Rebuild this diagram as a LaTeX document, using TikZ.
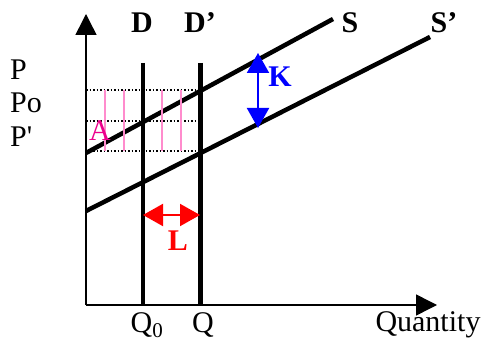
\documentclass[tikz,border=0pt]{standalone}
\usepackage{fontspec}
\setmainfont{Liberation Serif}
\usetikzlibrary{arrows.meta}
\begin{document}
\begin{tikzpicture}[x=1pt,y=-1pt,
    lbl/.style={font=\fontsize{30}{32}\selectfont, inner sep=0pt},
    blbl/.style={font=\fontsize{30}{32}\selectfont\bfseries, inner sep=0pt},
    tip/.style={-{Triangle[length=21pt,width=21pt]}},
    dtip/.style={{Triangle[length=20pt,width=22pt]}-{Triangle[length=20pt,width=22pt]}}]

  \useasboundingbox (0,0) rectangle (484,344);

  % Assen
  \coordinate (O)    at (86,305);
  \coordinate (Ytop) at (86,14);
  \coordinate (Xend) at (437,305);
  \draw[tip, line width=1.5pt] (O) -- (Ytop);
  \draw[tip, line width=1.5pt] (O) -- (Xend);

  % Vraaglijnen
  \coordinate (D0) at (143,63);
  \coordinate (D1) at (143,305);
  \coordinate (E0) at (200,63);
  \coordinate (E1) at (200,305);
  \draw[line width=3.5pt] (D0) -- (D1);
  \draw[line width=5pt]   (E0) -- (E1);

  % Aanbodlijnen
  \coordinate (S0) at (86,153);
  \coordinate (S1) at (333,19);
  \coordinate (T0) at (86,211);
  \coordinate (T1) at (430,37);
  \draw[line width=4.5pt] (S0) -- (S1);
  \draw[line width=4.5pt] (T0) -- (T1);

  % Hulplijnen
  \foreach \y/\n in {90/a,121/b,151/c} {
    \coordinate (H\n0) at (86,\y);
    \coordinate (H\n1) at (200,\y);
    \draw[dotted, line width=1.5pt] (H\n0) -- (H\n1);
  }

  % Arcering
  \foreach \x in {105,124,162,181} {
    \coordinate (R\x0) at (\x,90);
    \coordinate (R\x1) at (\x,151);
    \draw[line width=1.5pt, color={rgb,255:red,255;green,140;blue,205}] (R\x0) -- (R\x1);
  }

  % Verschuivingen
  \coordinate (K0) at (258,53);
  \coordinate (K1) at (258,128);
  \draw[dtip, blue, line width=2pt] (K0) -- (K1);
  \node[blbl, blue] (K) at (280,77) {K};

  \coordinate (L0) at (143,215);
  \coordinate (L1) at (200,215);
  \draw[dtip, red, line width=2pt] (L0) -- (L1);
  \node[blbl, red] (L) at (178,241) {L};

  \node[lbl, magenta] (A) at (100,131) {A};

  % Labels
  \node[blbl] (Dlab)  at (142,23) {D};
  \node[blbl] (D2lab) at (200,23) {D'};
  \node[blbl] (Slab)  at (350,23) {S};
  \node[blbl] (S2lab) at (444,23) {S'};

  \node[lbl, anchor=west] (P)  at (10,70)  {P};
  \node[lbl, anchor=west] (Po) at (10,103) {Po};
  \node[lbl, anchor=west] (P2) at (10,137) {P\textquotesingle};

  \node[lbl] (Q0) at (147,325) {Q\textsubscript{0}};
  \node[lbl] (Q)  at (203,325) {Q};
  \node[lbl] (Qty) at (428,325) {Quantity};

\end{tikzpicture}
\end{document}
